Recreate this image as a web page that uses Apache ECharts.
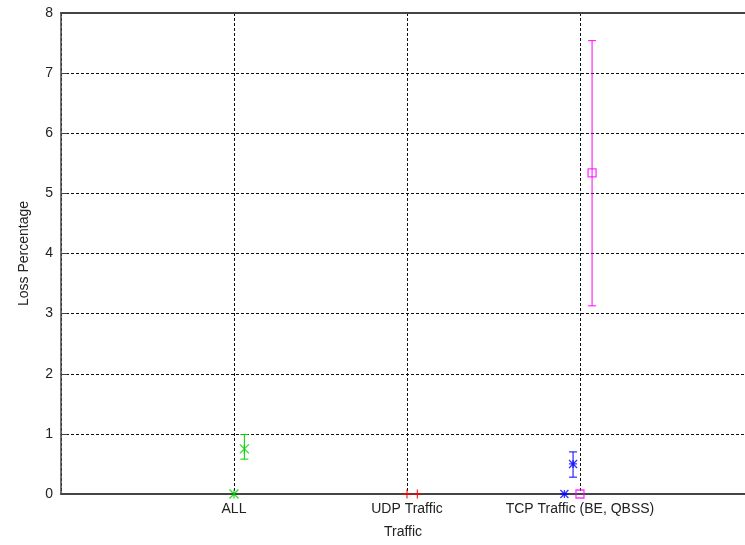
<!DOCTYPE html>
<html>
<head>
<meta charset="utf-8">
<script src="https://cdn.jsdelivr.net/npm/echarts@6/dist/echarts.min.js"></script>
<style>html,body{margin:0;padding:0;background:#fff;}#c{width:745px;height:545px;}</style>
</head>
<body>
<div id="c"></div>
<script>
// Category tick labels (positions 1,2,3 on the x scale)
var categories = ['ALL', 'UDP Traffic', 'TCP Traffic (BE, QBSS)'];
var yTicks = [0, 1, 2, 3, 4, 5, 6, 7, 8];
// Series values: [x position, value, low, high]
var greenAll = [[1.0, 0.0, 0.0, 0.0], [1.06, 0.75, 0.58, 0.99]];
var redUdp = [[2.0, 0.0, 0.0, 0.0], [2.06, 0.0, 0.0, 0.0]];
var blueTcp = [[2.91, 0.0, 0.0, 0.0], [2.96, 0.5, 0.28, 0.70]];
var magentaTcp = [[3.0, 0.0, 0.0, 0.0], [3.07, 5.34, 3.13, 7.54]];

var FONT = '"Liberation Sans", Arial, sans-serif';

function errSeries(name, data, color, symbol, size) {
  return [{
    name: name + ' err',
    type: 'custom',
    data: data,
    z: 3,
    renderItem: function (params, api) {
      var x = api.value(0);
      var lo = api.coord([x, api.value(2)]);
      var hi = api.coord([x, api.value(3)]);
      var cw = 4;
      var st = { stroke: color, lineWidth: 1 };
      if (Math.abs(hi[1] - lo[1]) < 0.5) return { type: 'group', children: [] };
      return {
        type: 'group',
        children: [
          { type: 'line', shape: { x1: lo[0], y1: lo[1], x2: hi[0], y2: hi[1] }, style: st },
          { type: 'line', shape: { x1: lo[0] - cw, y1: lo[1], x2: lo[0] + cw, y2: lo[1] }, style: st },
          { type: 'line', shape: { x1: hi[0] - cw, y1: hi[1], x2: hi[0] + cw, y2: hi[1] }, style: st }
        ]
      };
    }
  }, {
    name: name,
    type: 'scatter',
    data: data.map(function (d) { return [d[0], d[1]]; }),
    symbol: symbol,
    symbolSize: size,
    z: 4,
    itemStyle: { color: 'none', borderColor: color, borderWidth: 1.3 }
  }];
}

var chart = echarts.init(document.getElementById('c'), null, { renderer: 'canvas' });
var series = []
  .concat(errSeries('ALL', greenAll, '#00d000', 'path://M0,0L10,10M10,0L0,10M5,0L5,10', 9))
  .concat(errSeries('UDP', redUdp, '#ff0000', 'path://M5,0L5,10M0,5L10,5', 9))
  .concat(errSeries('TCP', blueTcp, '#0000ff', 'path://M0,0L10,10M10,0L0,10M5,0L5,10M0,5L10,5', 8))
  .concat(errSeries('QBSS', magentaTcp, '#ff00ff', 'rect', 8));

chart.setOption({
  animation: false,
  backgroundColor: '#fff',
  grid: { left: 61, top: 13, right: 0, bottom: 51 },
  xAxis: [{
    type: 'value',
    min: 0, max: 3.954, interval: 1,
    name: 'Traffic', nameLocation: 'middle', nameGap: 31,
    nameTextStyle: { fontFamily: FONT, fontSize: 14, color: '#222' },
    axisLine: { show: true, lineStyle: { color: '#444', width: 2 } },
    axisTick: { show: false },
    axisLabel: {
      fontFamily: FONT, fontSize: 14, color: '#222', margin: 8,
      showMaxLabel: false,
      formatter: function (v) { var i = Math.round(v); return (Math.abs(v - i) < 1e-6 && i >= 1 && i <= categories.length) ? categories[i - 1] : ''; }
    },
    splitLine: { show: true, lineStyle: { color: '#111', type: [3, 2], width: 1 } }
  }, {
    type: 'value', position: 'top',
    min: 0, max: 3.954,
    axisLine: { show: true, onZero: false, lineStyle: { color: '#444', width: 2 } },
    axisTick: { show: false }, axisLabel: { show: false }, splitLine: { show: false }
  }],
  yAxis: {
    type: 'value', min: yTicks[0], max: yTicks[yTicks.length - 1], interval: 1,
    name: 'Loss Percentage', nameLocation: 'middle', nameGap: 30, nameRotate: 90,
    nameTextStyle: { fontFamily: FONT, fontSize: 14, color: '#222' },
    axisLine: { show: true, lineStyle: { color: '#444', width: 1.5 } },
    axisTick: { show: true, inside: true, length: 6, lineStyle: { color: '#444' } },
    axisLabel: { fontFamily: FONT, fontSize: 14, color: '#222', margin: 8 },
    splitLine: { show: true, lineStyle: { color: '#111', type: [3, 2], width: 1 } }
  },
  series: series
});
</script>
</body>
</html>
